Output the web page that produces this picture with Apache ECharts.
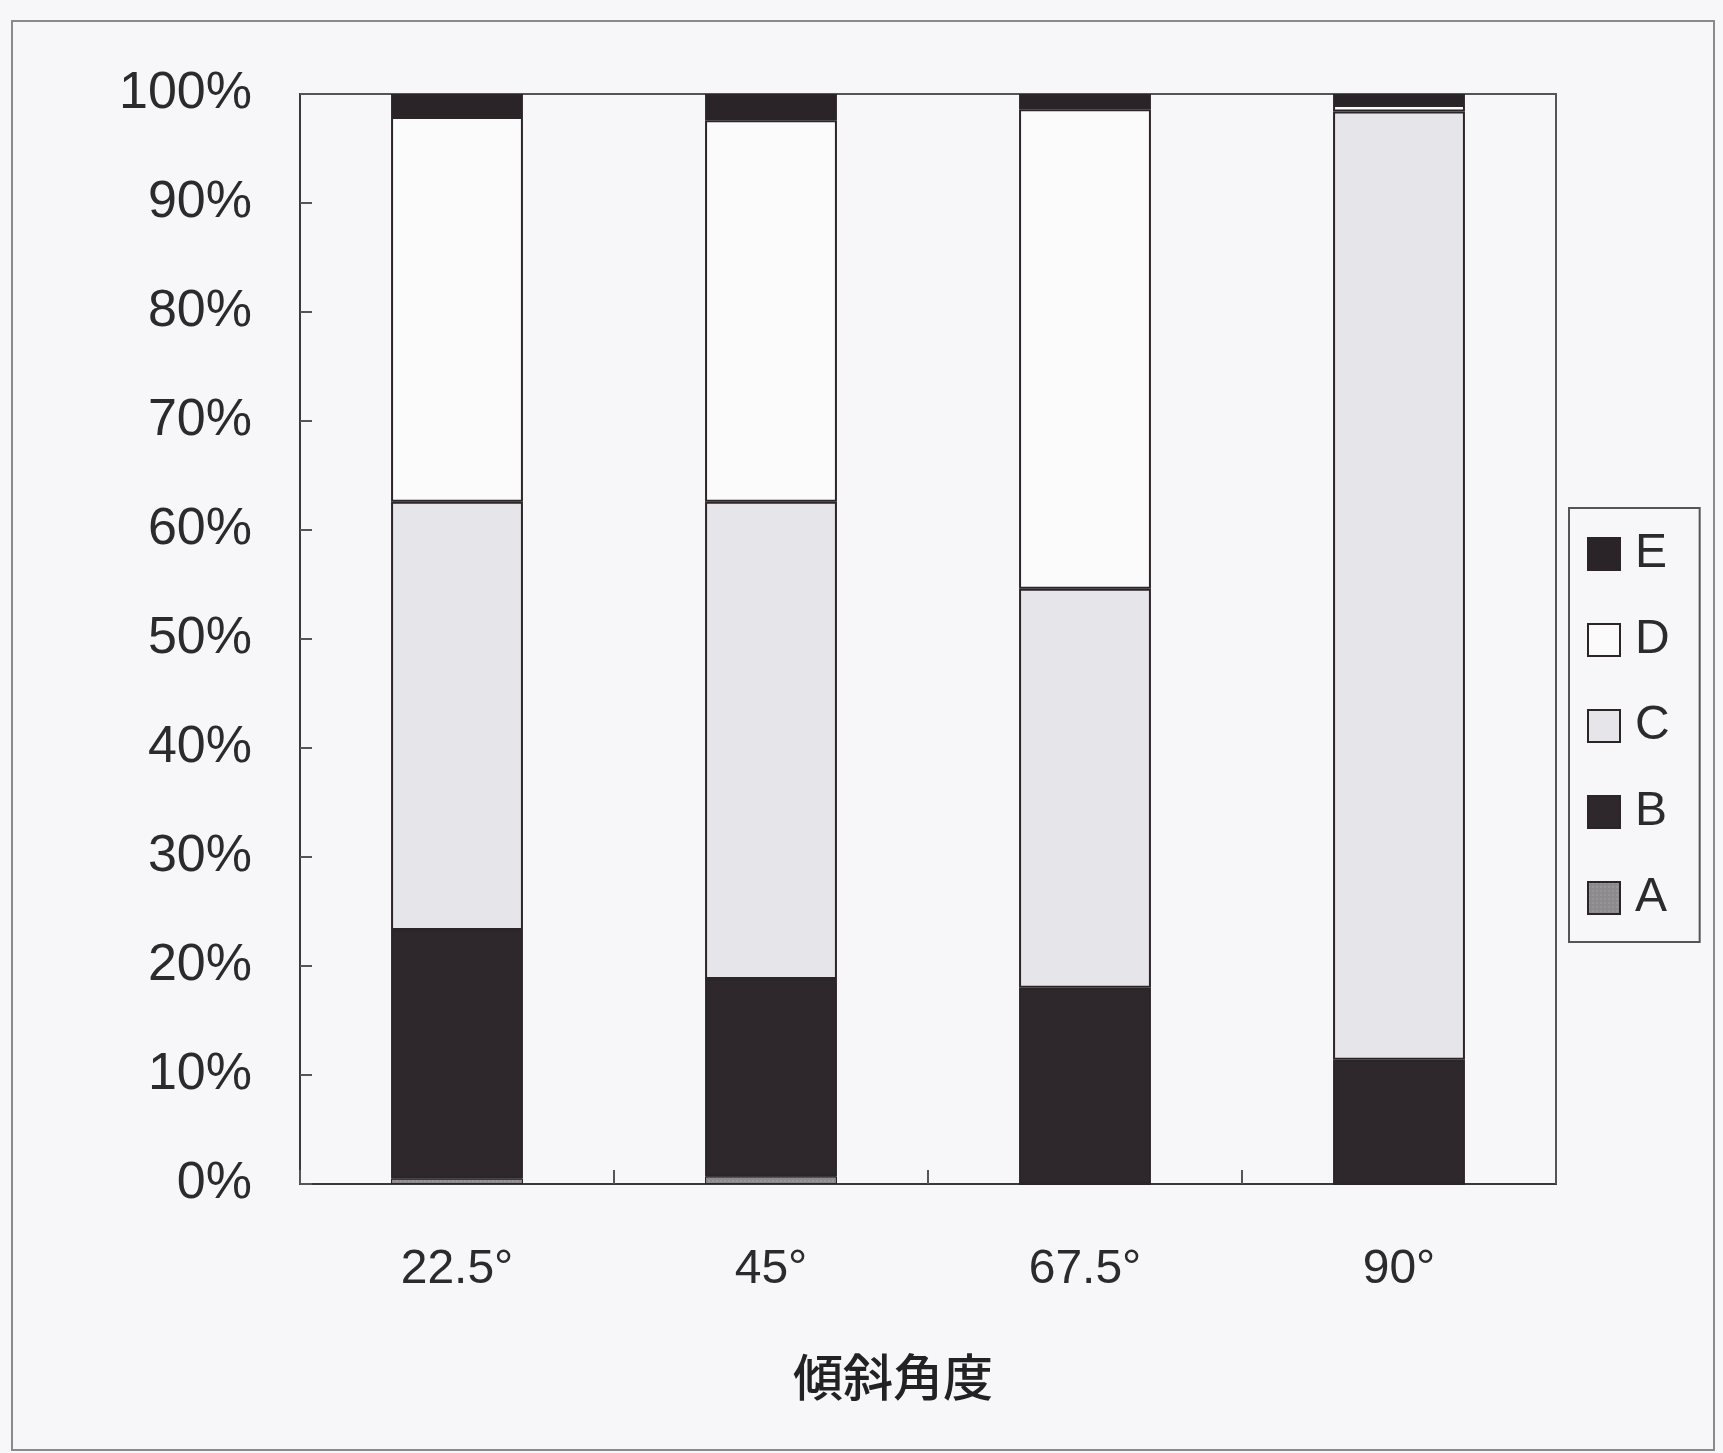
<!DOCTYPE html>
<html>
<head>
<meta charset="utf-8">
<script src="https://cdn.jsdelivr.net/npm/echarts@6/dist/echarts.min.js"></script>
<style>
html,body{margin:0;padding:0;background:#f7f6f8;}
#chart{width:1723px;height:1453px;}
</style>
</head>
<body>
<div id="chart"></div>
<script>
const categories = ['22.5°', '45°', '67.5°', '90°'];
const seriesA = [0.5, 0.7, 0, 0];
const seriesB = [22.8, 18.1, 18.0, 11.4];
const seriesC = [39.3, 43.8, 36.6, 87.0];
const seriesD = [35.3, 35.0, 44.0, 0.6];
const seriesE = [2.1, 2.4, 1.4, 1.0];
const yTicks = [0, 10, 20, 30, 40, 50, 60, 70, 80, 90, 100];
const axisName = '傾斜角度';

const chart = echarts.init(document.getElementById('chart'));
const font = 'Liberation Sans, Arial, sans-serif';
const border = '#2b2528';
function mk(name, data, color) {
  return {
    name: name, type: 'bar', stack: 'total', data: data, barWidth: '42%',
    itemStyle: { color: color, borderColor: border, borderWidth: 2 },
    emphasis: { disabled: true }
  };
}
chart.setOption({
  backgroundColor: '#f7f6f8',
  animation: false,
  graphic: [{
    type: 'rect', shape: { x: 12, y: 21, width: 1702, height: 1429 },
    style: { fill: 'none', stroke: '#8a8a8a', lineWidth: 2 }, silent: true
  }],
  grid: { left: 300, top: 94, width: 1256, height: 1090, show: true, borderColor: '#555', borderWidth: 2, backgroundColor: 'transparent' },
  legend: {
    orient: 'vertical', left: 1569, top: 508,
    data: ['E', 'D', 'C', 'B', 'A'],
    icon: 'rect', itemWidth: 32, itemHeight: 32, itemGap: 38,
    padding: [22, 30, 20, 18],
    borderColor: '#555', borderWidth: 2, backgroundColor: '#f7f6f8',
    textStyle: { fontSize: 48, fontFamily: font, color: '#2b2b2b', padding: [0, 0, 0, 10], lineHeight: 44 },
    selectedMode: false
  },
  xAxis: {
    type: 'category', data: categories,
    name: axisName, nameLocation: 'middle', nameGap: 168,
    nameTextStyle: { fontSize: 50, fontFamily: 'Noto Sans CJK JP', color: '#222', fontWeight: 500, padding: [0, 70, 0, 0] },
    axisLine: { lineStyle: { color: '#3a3a3a', width: 2 } },
    axisTick: { show: true, inside: true, length: 14, lineStyle: { color: '#555', width: 2 } },
    axisLabel: { fontSize: 48, fontFamily: font, color: '#2b2b2b', margin: 62 }
  },
  yAxis: {
    type: 'value', min: 0, max: 100, interval: 10,
    axisLine: { show: true, lineStyle: { color: '#3a3a3a', width: 2 } },
    axisTick: { show: true, inside: true, length: 12, lineStyle: { color: '#555', width: 2 } },
    splitLine: { show: false },
    axisLabel: {
      fontSize: 52, fontFamily: font, color: '#2b2b2b', margin: 48,
      formatter: function (v) { return yTicks.indexOf(v) >= 0 ? v + '%' : ''; }
    }
  },
  series: [
    Object.assign(mk('A', seriesA, '#8c8a8d'), { itemStyle: { color: '#8c8a8d', borderColor: border, borderWidth: 1, decal: { symbol: 'rect', symbolSize: 0.5, dashArrayX: [2, 2], dashArrayY: [2, 2], color: 'rgba(255,255,255,0.4)' } } }),
    mk('B', seriesB, '#2e282c'),
    mk('C', seriesC, '#e6e5e9'),
    mk('D', seriesD, '#fbfbfc'),
    mk('E', seriesE, '#2a2428')
  ]
});
</script>
</body>
</html>
